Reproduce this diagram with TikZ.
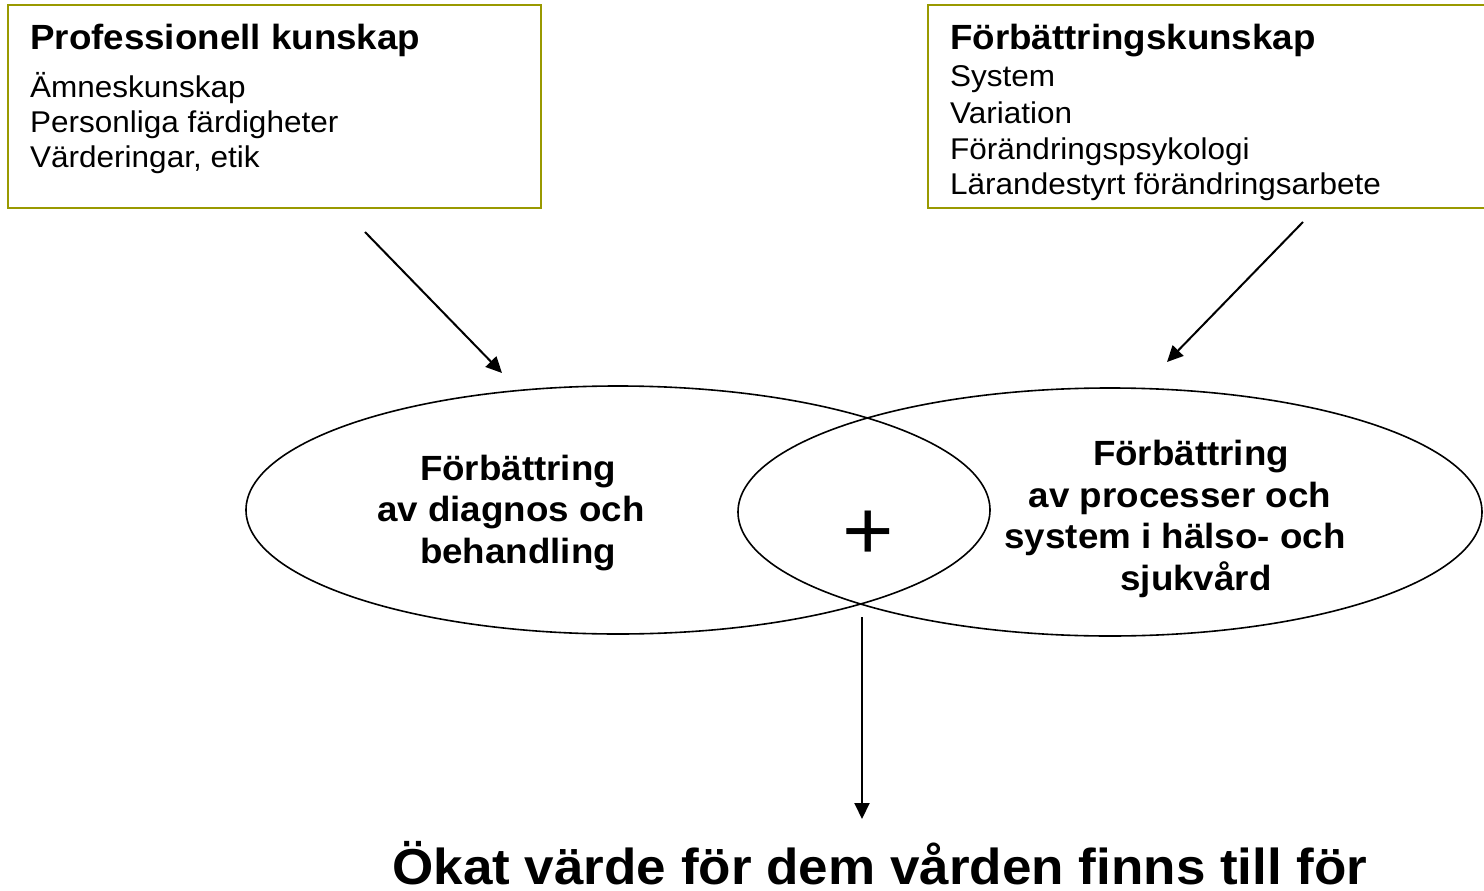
\documentclass[tikz,border=0pt]{standalone}
\usepackage{fontspec}
\setmainfont{Liberation Sans}[FakeStretch=1.05]
\usetikzlibrary{arrows.meta,shapes.geometric}
\definecolor{boxline}{RGB}{153,153,0}
\begin{document}
\begin{tikzpicture}[x=1pt,y=-1pt,
  knowbox/.style={draw=boxline,line width=2pt,rectangle,inner sep=0pt,anchor=north west},
  ring/.style={draw,line width=1.6pt,ellipse,inner sep=0pt,minimum width=744pt,minimum height=248pt},
  head/.style={anchor=base west,inner sep=0pt,font=\bfseries\fontsize{35}{40}\selectfont},
  item/.style={anchor=base west,inner sep=0pt,font=\fontsize{30}{35}\selectfont},
  ringtext/.style={align=center,inner sep=0pt,font=\bfseries\fontsize{35}{41.5}\selectfont},
  flow/.style={line width=2pt,-{Triangle[length=16pt,width=15pt]}}]
\useasboundingbox (0,0) rectangle (1484,891);

% knowledge boxes
\node[knowbox,minimum width=533pt,minimum height=203pt] (prof) at (7,4) {};
\node[knowbox,minimum width=570pt,minimum height=203pt] (impr) at (927,4) {};

\node[head] (profhead) at (30,50) {Professionell kunskap};
\node[item] (p1) at (30,97) {Ämneskunskap};
\node[item] (p2) at (30,132) {Personliga färdigheter};
\node[item] (p3) at (30,167) {Värderingar, etik};

\node[head] (imprhead) at (950,50) {Förbättringskunskap};
\node[item] (i1) at (950,87) {System};
\node[item] (i2) at (950,123) {Variation};
\node[item] (i3) at (950,159) {Förändringspsykologi};
\node[item] (i4) at (950,194) {Lärandestyrt förändringsarbete};

% overlapping areas of improvement
\node[ring] (diag) at (618,510) {};
\node[ring] (proc) at (1110,512) {};

\node[ringtext] (diagtext) at (518,513) {Förbättring\\av diagnos och\kern14pt\\behandling};
\node[ringtext] (proctext) at (1196,519) {Förbättring\kern10pt\\av processer och\kern32pt\\system i hälso- och\kern42pt\\sjukvård};

\node[anchor=base,inner sep=0pt,font=\fontsize{84}{84}\selectfont] (plus) at (868.5,559) {+};

% result
\node[anchor=base,inner sep=0pt,font=\bfseries\fontsize{50.5}{54}\selectfont] (value) at (880,884) {Ökat värde för dem vården finns till för};

% arrows
\coordinate (a1s) at (365,232);
\coordinate (a1e) at (502,373);
\coordinate (a2s) at (1303,222);
\coordinate (a2e) at (1167,362);
\coordinate (a3s) at (862,617);
\coordinate (a3e) at (862,819);
\draw[flow] (a1s) -- (a1e);
\draw[flow] (a2s) -- (a2e);
\draw[flow] (a3s) -- (a3e);
\end{tikzpicture}
\end{document}
